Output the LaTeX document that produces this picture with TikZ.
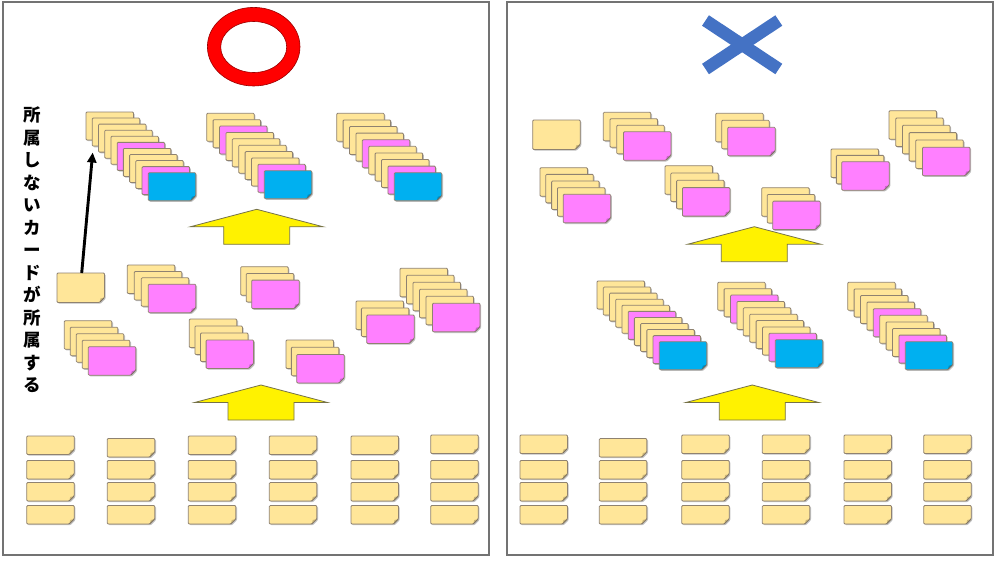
\documentclass[tikz,border=0pt]{standalone}
\usepackage{fontspec}
\newfontfamily\cjk{Noto Sans CJK JP}
\usetikzlibrary{arrows.meta}
\definecolor{cardY}{HTML}{FFE699}
\definecolor{cardP}{HTML}{FF80FF}
\definecolor{cardB}{HTML}{00B0F0}
\definecolor{edgegray}{HTML}{8F8270}
\definecolor{crossblue}{HTML}{4472C4}
\tikzset{
  cardline/.style={draw=edgegray, line width=0.8pt},
  cardshadow/.style={fill=black, opacity=0.25},
  cardfold/.style={fill=black, opacity=0.2},
  panel/.style={draw=black!55, line width=1.3pt},
  bigarrow/.style={fill=yellow, draw=black!45!yellow!70!black, line width=0.8pt},
}
% #1 colour, #2 x, #3 y, #4 height
\newcommand{\cardat}[4][cardY]{%
  \fill[cardshadow, rounded corners=1pt] ({#2+1.2},{#3+1.2}) -- ++(47.5,0) -- ++(0,#4-5) -- ++(-5,5) -- ++(-42.5,0) -- cycle;
  \draw[cardline, fill=#1, rounded corners=1pt] ({#2},{#3}) -- ++(47.5,0) -- ++(0,#4-5) -- ++(-5,5) -- ++(-42.5,0) -- cycle;
  \fill[cardfold] ({#2+47.5},{#3+#4-5}) -- ++(-4,1) -- ++(-1,4) -- cycle;
}
\begin{document}
\begin{tikzpicture}[x=1pt, y=-1pt]
  \useasboundingbox (0,0) rectangle (1000,563);
  \fill[white] (0,0) rectangle (1000,563);
  \draw[panel] (3,2) rectangle (489,555);
  \draw[panel] (507,2) rectangle (993,555);
  % good / bad marks
  \draw[fill=red, draw=red!60!black, even odd rule, line width=0.6pt]
    (253.7,46.7) ellipse [x radius=46.3, y radius=39.3]
    (253.7,47) ellipse [x radius=33, y radius=25.5];
  \draw[crossblue, line width=12.5pt] (705.5,20.5) -- (778.8,69);
  \draw[crossblue, line width=12.5pt] (705.5,69) -- (778.8,20.5);
  % up arrows
  \foreach \tx/\ty in {256.7/209.3, 261/385, 754.3/226.7, 752.3/385} {
    \draw[bigarrow] (\tx,\ty) -- ++(66.5,17.5) -- ++(-33.5,0) -- ++(0,17.5) -- ++(-66,0) -- ++(0,-17.5) -- ++(-33.5,0) -- cycle;
  }
  % bottom rows of loose cards
  \foreach \x/\ya in {26.7/436, 107.3/438.5, 188.3/436, 269.3/436, 351/436, 430.7/435,
                      520/435, 599.3/438.5, 681.7/435, 762.3/435, 844/435, 923.7/435} {
    \cardat{\x}{\ya}{18.5}
    \foreach \y in {461,483,506} {
      \cardat{\x}{\y-0.5}{18.5}
    }
  }
  % small groups: x/y/dx/dy/beige cards, then one pink
  \foreach \gx/\gy/\dx/\dy/\b in {127.3/265/7/6.4/3, 240.7/266.7/5.5/6.7/2, 64.3/320.7/6/6.5/4,
                                  189.3/319/5.6/7/3, 286/340/5.35/7.2/2, 356/301/5.35/7/2,
                                  400/268.3/6.5/7/5,
                                  603.3/112.3/6.7/6.5/3, 715.7/113.3/6/7/2, 540/167.7/5.8/6.65/4,
                                  665/165.7/5.8/7.3/3, 761.7/187.7/5.5/6.7/2, 831/149/5.35/6.35/2,
                                  889/110.7/6.7/7.3/5} {
    \foreach \i in {1,...,\b} {
      \cardat{\gx+\dx*(\i-1)}{\gy+\dy*(\i-1)}{28.5}
    }
    \cardat[cardP]{\gx+\dx*\b}{\gy+\dy*\b}{28.5}
  }
  \cardat{57}{273}{29.5}
  \cardat{532.7}{120}{29.5}
  % finished stacks
  \foreach \ox/\oy in {0/0, 511/169} {
    \foreach \sx/\sy/\dx/\dy/\cols in {86/112/6.23/6.07/{Y,Y,Y,Y,Y,P,Y,Y,Y,P,B},
                                       206.7/113.3/6.4/6.38/{Y,Y,P,Y,Y,Y,Y,Y,P,B},
                                       336.7/113.3/6.4/6.6/{Y,Y,Y,Y,P,Y,Y,Y,P,B}} {
      \foreach \cc [count=\k from 0] in \cols {
        \cardat[card\cc]{\ox+\sx+\dx*\k}{\oy+\sy+\dy*\k}{28}
      }
    }
  }
  % lone card joins a stack
  \coordinate (lone) at (81.7,273);
  \coordinate (stacktop) at (92.7,152.5);
  \draw[-{Triangle[length=10pt,width=9pt]}, line width=2.9pt] (lone) -- (stacktop);
  \node[align=center, font=\cjk\bfseries\fontsize{17.5}{22.5}\selectfont, inner sep=0pt] (belong) at (32,250)
    {所\\属\\し\\な\\い\\カ\\ー\\ド\\が\\所\\属\\す\\る};
\end{tikzpicture}
\end{document}
